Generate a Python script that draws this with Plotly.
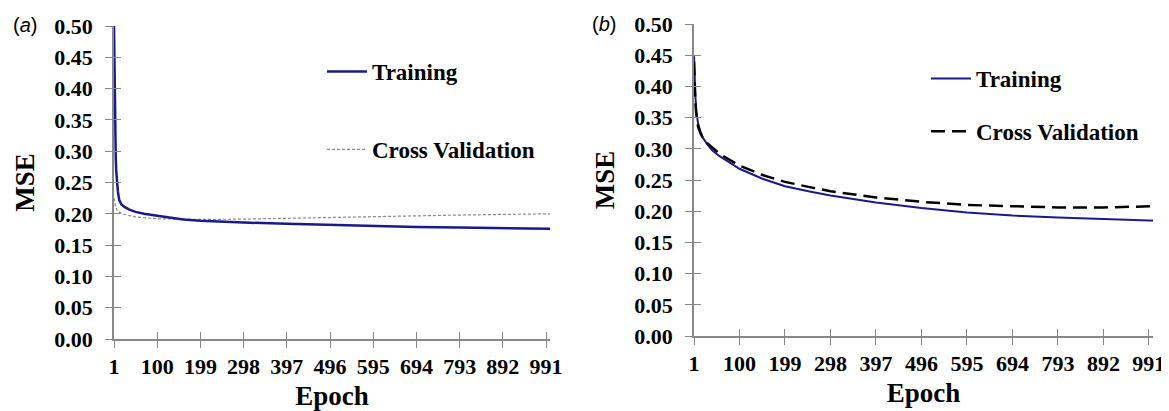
import plotly.graph_objects as go

# ---- Data ----
epoch_a = [1, 2, 3, 4, 5, 6, 8, 10, 13, 18, 25, 35, 50, 70, 100, 130, 160, 199, 250, 298, 397, 496, 595, 694, 793, 892, 991, 1000]
train_a = [0.50, 0.42, 0.36, 0.32, 0.29, 0.27, 0.25, 0.235, 0.222, 0.215, 0.211, 0.207, 0.203, 0.200, 0.197, 0.194, 0.191, 0.189, 0.187, 0.186, 0.184, 0.182, 0.181, 0.179, 0.178, 0.177, 0.176, 0.176]
cv_epoch_a = [1, 3, 5, 8, 12, 20, 35, 50, 100, 150, 199, 298, 397, 496, 595, 694, 793, 892, 991, 1000]
cv_a = [0.225, 0.215, 0.210, 0.206, 0.203, 0.200, 0.197, 0.195, 0.192, 0.191, 0.191, 0.1915, 0.193, 0.194, 0.195, 0.197, 0.198, 0.199, 0.200, 0.200]

epoch_b = [1, 2, 3, 4, 6, 8, 10, 15, 20, 30, 40, 55, 70, 100, 150, 199, 250, 298, 397, 496, 595, 694, 793, 892, 991, 1000]
train_b = [0.45, 0.42, 0.40, 0.385, 0.36, 0.35, 0.34, 0.328, 0.318, 0.307, 0.298, 0.289, 0.282, 0.268, 0.252, 0.240, 0.232, 0.225, 0.214, 0.205, 0.198, 0.193, 0.190, 0.187, 0.185, 0.185]
cv_b = [0.44, 0.41, 0.39, 0.375, 0.355, 0.345, 0.335, 0.325, 0.318, 0.309, 0.302, 0.293, 0.286, 0.273, 0.258, 0.247, 0.239, 0.232, 0.222, 0.215, 0.210, 0.208, 0.206, 0.206, 0.208, 0.208]

x_ticks = [1, 100, 199, 298, 397, 496, 595, 694, 793, 892, 991]
y_ticks = [0.00, 0.05, 0.10, 0.15, 0.20, 0.25, 0.30, 0.35, 0.40, 0.45, 0.50]
y_tick_text = [f"{v:.2f}" for v in y_ticks]

NAVY = "#1a1a8e"
AXC = "#888888"
FONT = "Liberation Serif"

# page body has an 8px default margin: size the figure to the visible window
OFF = 8
W, H = 1169 - OFF, 411 - OFF

def px(x):  # screen x -> paper fraction
    return (x - OFF) / W

def py(y):  # screen y -> paper fraction
    return (H - (y - OFF)) / H

fig = go.Figure()

# Panel (a)
fig.add_trace(go.Scatter(x=cv_epoch_a, y=cv_a, mode="lines", name="Cross Validation",
                         line=dict(color="#8a8a8a", width=1.2, dash="3px,2px"),
                         xaxis="x", yaxis="y", legend="legend", legendgroup="a2", legendrank=2))
fig.add_trace(go.Scatter(x=epoch_a, y=train_a, mode="lines", name="Training",
                         line=dict(color=NAVY, width=2.5),
                         xaxis="x", yaxis="y", legend="legend", legendgroup="a1", legendrank=1))

# Panel (b)
fig.add_trace(go.Scatter(x=epoch_b, y=train_b, mode="lines", name="Training",
                         line=dict(color=NAVY, width=2),
                         xaxis="x2", yaxis="y2", legend="legend2", legendgroup="b1", legendrank=1))
fig.add_trace(go.Scatter(x=epoch_b, y=cv_b, mode="lines", name="Cross Validation",
                         line=dict(color="black", width=2.5, dash="14px,7px"),
                         xaxis="x2", yaxis="y2", legend="legend2", legendgroup="b2", legendrank=2))

tickfont = dict(family=FONT, size=22, color="black", weight="bold")
titlefont = dict(family=FONT, size=27, color="black", weight="bold")

def xax(domain, anchor):
    return dict(domain=domain, anchor=anchor, range=[1, 1000], tickmode="array",
                tickvals=x_ticks, ticktext=[str(t) for t in x_ticks], automargin=False,
                showline=True, linecolor=AXC, linewidth=1.5, ticks="outside",
                ticklen=7, tickcolor=AXC, tickwidth=1.2, showgrid=False, zeroline=False,
                tickfont=tickfont, ticklabelstandoff=0, ticklabeloverflow="allow",
                title=dict(text="Epoch", font=titlefont, standoff=8))

def yax(domain, anchor):
    return dict(domain=domain, anchor=anchor, range=[0, 0.5], tickmode="array",
                tickvals=y_ticks, ticktext=y_tick_text, automargin=False,
                showline=True, linecolor=AXC, linewidth=1.5, ticks="outside",
                ticklen=7, tickcolor=AXC, tickwidth=1.2, showgrid=False, zeroline=False,
                tickfont=tickfont, ticklabelstandoff=8, ticklabeloverflow="allow",
                title=dict(text="MSE", font=titlefont, standoff=12))

def overlay_x(base, anchor, domain):
    return dict(overlaying=base, anchor=anchor, domain=domain, range=[1, 1000], tickmode="array",
                tickvals=x_ticks, showticklabels=False, ticks="inside", ticklen=7, automargin=False,
                tickcolor=AXC, tickwidth=1.2, showgrid=False, zeroline=False, showline=False)

def overlay_y(base, anchor, domain):
    return dict(overlaying=base, anchor=anchor, domain=domain, range=[0, 0.5], tickmode="array",
                tickvals=y_ticks, showticklabels=False, ticks="inside", ticklen=7, automargin=False,
                tickcolor=AXC, tickwidth=1.2, showgrid=False, zeroline=False, showline=False)

xa_dom = [px(114), px(550)]
xb_dom = [px(694), px(1153)]
ya_dom = [py(339), py(26)]
yb_dom = [py(336), py(24)]

# invisible helper traces so the overlay axes (inside tick halves) are drawn
fig.add_trace(go.Scatter(x=[None], y=[None], xaxis="x3", yaxis="y3", showlegend=False, hoverinfo="skip"))
fig.add_trace(go.Scatter(x=[None], y=[None], xaxis="x4", yaxis="y4", showlegend=False, hoverinfo="skip"))

fig.update_layout(
    width=W, height=H,
    margin=dict(l=0, r=0, t=0, b=0, autoexpand=False),
    paper_bgcolor="white", plot_bgcolor="white",
    xaxis=xax(xa_dom, "y"), yaxis=yax(ya_dom, "x"),
    xaxis2=xax(xb_dom, "y2"), yaxis2=yax(yb_dom, "x2"),
    xaxis3=overlay_x("x", "y3", xa_dom), yaxis3=overlay_y("y", "x3", ya_dom),
    xaxis4=overlay_x("x2", "y4", xb_dom), yaxis4=overlay_y("y2", "x4", yb_dom),
    legend=dict(x=px(322), y=py(50), xanchor="left", yanchor="top",
                font=dict(family=FONT, size=23, color="black", weight="bold"),
                tracegroupgap=45, bgcolor="rgba(0,0,0,0)", itemwidth=40),
    legend2=dict(x=px(926), y=py(57), xanchor="left", yanchor="top",
                 font=dict(family=FONT, size=23, color="black", weight="bold"),
                 tracegroupgap=20, bgcolor="rgba(0,0,0,0)", itemwidth=40),
    annotations=[
        dict(text="(<i>a</i>)", x=px(11), y=py(25), xref="paper", yref="paper",
             xanchor="left", yanchor="middle", showarrow=False,
             font=dict(family="Liberation Sans", size=20, color="black")),
        dict(text="(<i>b</i>)", x=px(590), y=py(24), xref="paper", yref="paper",
             xanchor="left", yanchor="middle", showarrow=False,
             font=dict(family="Liberation Sans", size=20, color="black")),
    ],
)

fig.write_html("out.html")
